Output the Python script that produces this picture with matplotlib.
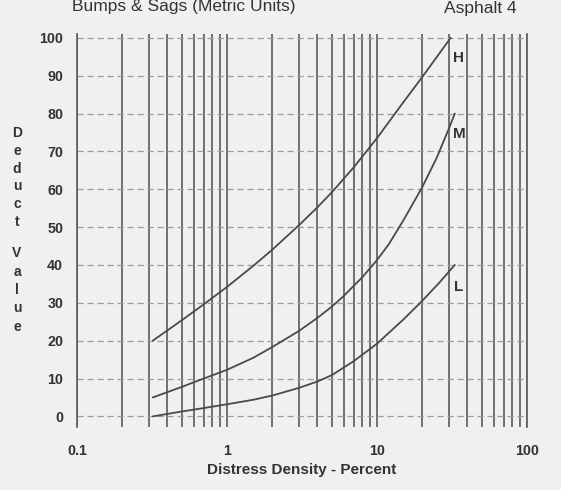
import numpy as np
import matplotlib
matplotlib.use("Agg")
import matplotlib.pyplot as plt
from matplotlib.ticker import FixedLocator, NullFormatter

# Datos (densidad %, valor deducido)
h_x = [0.32, 0.5, 0.7, 1.0, 1.5, 2.0, 3.0, 4.0, 5.0, 7.0, 10, 15, 20, 31]
h_y = [20, 25.4, 29.6, 34.2, 39.8, 44, 50.4, 55.2, 59.2, 65.8, 73.5, 83, 89.6, 100]

m_x = [0.32, 0.5, 0.7, 1.0, 1.5, 2.0, 3.0, 4.0, 5.0, 6.0, 7.0, 8.0, 10,
       12, 15, 20, 25, 30, 33]
m_y = [5, 7.8, 10, 12.3, 15.5, 18.3, 22.5, 26, 29, 31.8, 34.5, 36.8, 41.3,
       45.5, 51.8, 60.5, 68.3, 75.8, 80]

l_x = [0.32, 0.5, 0.7, 1.0, 1.5, 2.0, 3.0, 4.0, 5.0, 7.0, 10, 15, 20, 26, 33]
l_y = [0, 1.3, 2.2, 3.2, 4.4, 5.5, 7.5, 9.2, 10.9, 14.6, 19.2, 25.6, 30.5,
       35.3, 40]

curvas = [("H", h_x, h_y, 94.7), ("M", m_x, m_y, 74.6), ("L", l_x, l_y, 34.1)]

x_major = [0.1, 1, 10, 100]
x_major_labels = ["0.1", "1", "10", "100"]
y_ticks = list(range(0, 101, 10))

fondo = "#eef0f2"
gris = "#4a4a4a"

plt.rcParams['font.family'] = ['Liberation Sans', 'DejaVu Sans']

fig = plt.figure(figsize=(5.61, 4.90), dpi=100, facecolor=fondo)
ax = fig.add_axes([0.1373, 0.1286, 0.8021, 0.8020])
ax.set_facecolor(fondo)

ax.set_xscale("log")
ax.set_xlim(0.1, 100)
ax.set_ylim(-2.8, 101)

ax.xaxis.set_major_locator(FixedLocator(x_major))
ax.set_xticklabels(x_major_labels)
minors = [m * d for d in [0.1, 1, 10] for m in range(2, 10)]
ax.xaxis.set_minor_locator(FixedLocator(minors))
ax.xaxis.set_minor_formatter(NullFormatter())
ax.set_yticks(y_ticks)

ax.grid(True, which="both", axis="x", color="#5a5a5a", lw=1.2)
ax.grid(True, which="major", axis="y", color="#9c9c9c", lw=0.9,
        linestyle=(0, (5, 3)))

for nom, s in ax.spines.items():
    if nom in ("left", "right"):
        s.set_color("#5a5a5a")
        s.set_linewidth(1.2)
    else:
        s.set_visible(False)
ax.tick_params(which="both", length=0)
ax.tick_params(axis="y", pad=10, labelsize=10.3, labelcolor="#333333")
ax.tick_params(axis="x", pad=12, labelsize=10.3, labelcolor="#333333")
for lab in ax.get_xticklabels() + ax.get_yticklabels():
    lab.set_fontweight("bold")

for nombre, xs, ys, ytxt in curvas:
    ax.plot(xs, ys, color=gris, lw=1.3, solid_capstyle="round",
            solid_joinstyle="round")
    ax.text(35.2, ytxt, nombre, fontsize=11, fontweight="bold",
            color="#333333", ha="center", va="center")

ax.set_xlabel("Distress Density - Percent", fontsize=11,
              fontweight="bold", color="#333333", labelpad=4)

# etiqueta vertical letra por letra
def px_to_fig(y_px):
    return 1 - y_px / 490.0

for i, c in enumerate("Deduct"):
    fig.text(17 / 561, px_to_fig(133 + i * 17.8), c, fontsize=10,
             fontweight="bold", color="#333333", ha="center", va="center")
for i, c in enumerate("Value"):
    fig.text(17 / 561, px_to_fig(253 + i * 18.5), c, fontsize=10,
             fontweight="bold", color="#333333", ha="center", va="center")

fig.text(184 / 561, px_to_fig(7), "Bumps & Sags (Metric Units)",
         fontsize=12.5, color="#333333", ha="center", va="center")
fig.text(480 / 561, px_to_fig(9), "Asphalt 4", fontsize=12.5,
         color="#333333", ha="center", va="center")

fig.savefig("out.png", dpi=100, facecolor=fondo)
